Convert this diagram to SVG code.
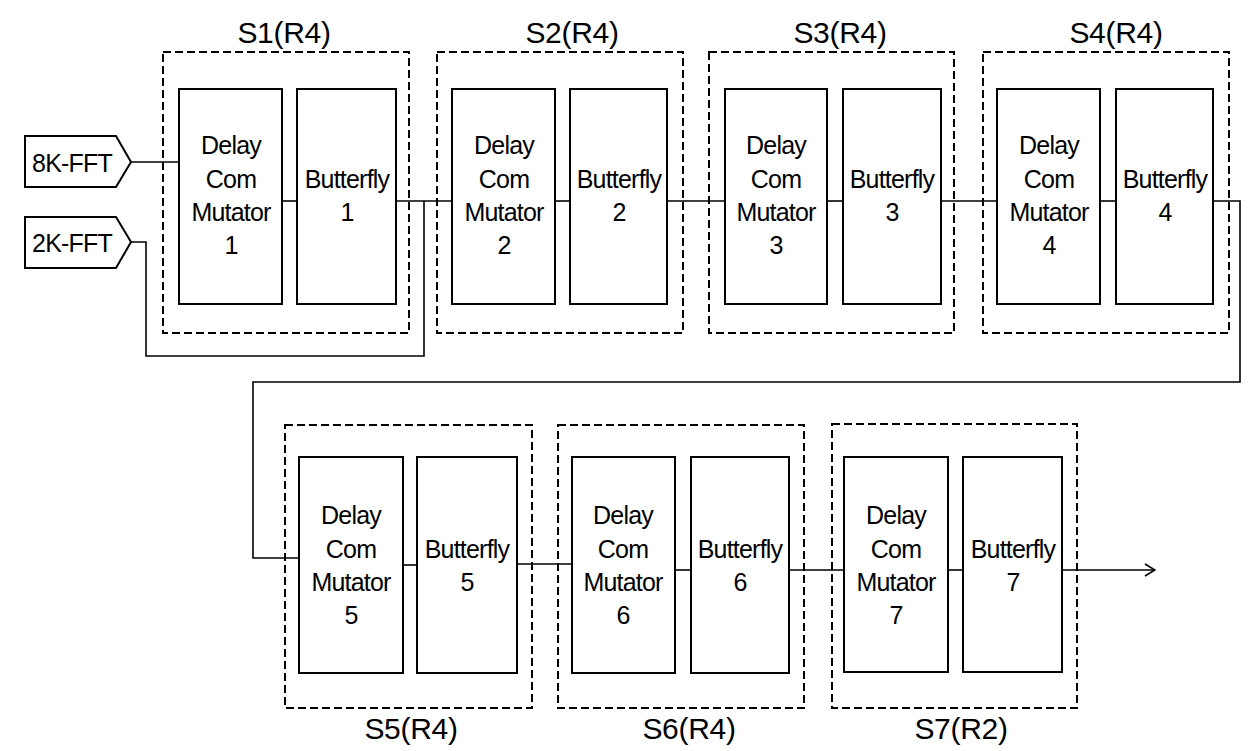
<svg xmlns="http://www.w3.org/2000/svg" width="1254" height="751" viewBox="0 0 1254 751">
<style>
.stage{fill:none;stroke:#000;stroke-width:2;stroke-dasharray:8 4}
.blk{fill:#fff;stroke:#000;stroke-width:2}
.wire{fill:none;stroke:#000;stroke-width:1.6}
.t{font-family:"Liberation Sans",Arial,sans-serif;font-size:25px;text-anchor:middle;fill:#000;letter-spacing:-0.8px}
.lbl{font-family:"Liberation Sans",Arial,sans-serif;font-size:30px;text-anchor:middle;fill:#000;letter-spacing:-0.3px}
</style>
<defs>
<marker id="arr" markerWidth="12" markerHeight="14" refX="11" refY="7" orient="auto" markerUnits="userSpaceOnUse">
<path d="M1,1 L11,7 L1,13" fill="none" stroke="#000" stroke-width="1.6"/>
</marker>
</defs>
<rect width="1254" height="751" fill="#fff"/>

<g id="connectors">
<polyline class="wire" points="131,162 179,162"/>
<polyline class="wire" points="131,242 146,242 146,356 424,356 424,201"/>
<polyline class="wire" points="282,201 297,201"/>
<polyline class="wire" points="396,201 452,201"/>
<polyline class="wire" points="555,201 570,201"/>
<polyline class="wire" points="667,201 725,201"/>
<polyline class="wire" points="827,201 843,201"/>
<polyline class="wire" points="941,201 997,201"/>
<polyline class="wire" points="1100,201 1116,201"/>
<polyline class="wire" points="1213,201 1240,201 1240,382 253,382 253,558 299,558"/>
<polyline class="wire" points="403,565 417,565"/>
<polyline class="wire" points="517,564 572,564"/>
<polyline class="wire" points="675,570 691,570"/>
<polyline class="wire" points="789,570 844,570"/>
<polyline class="wire" points="948,570 963,570"/>
<polyline class="wire" points="1062,570 1155,570" marker-end="url(#arr)"/>
</g>

<g id="in8k">
<polygon class="blk" points="25,136 116,136 131,162 116,187 25,187"/>
<text class="t" x="72" y="172">8K-FFT</text>
</g>
<g id="in2k">
<polygon class="blk" points="25,217 116,217 131,242 116,268 25,268"/>
<text class="t" x="72" y="252">2K-FFT</text>
</g>

<g id="S1">
<rect class="stage" x="163" y="52" width="246" height="281"/>
<text class="lbl" x="284" y="43">S1(R4)</text>
</g>
<g id="DCM1">
<rect class="blk" x="179" y="89" width="103" height="215"/>
<text class="t" x="231" y="154">Delay</text><text class="t" x="231" y="188">Com</text><text class="t" x="231" y="221">Mutator</text><text class="t" x="231" y="254">1</text>
</g>
<g id="BF1">
<rect class="blk" x="297" y="89" width="99" height="215"/>
<text class="t" x="347" y="188">Butterfly</text><text class="t" x="347" y="221">1</text>
</g>

<g id="S2">
<rect class="stage" x="437" y="52" width="246" height="281"/>
<text class="lbl" x="572" y="43">S2(R4)</text>
</g>
<g id="DCM2">
<rect class="blk" x="452" y="89" width="103" height="215"/>
<text class="t" x="504" y="154">Delay</text><text class="t" x="504" y="188">Com</text><text class="t" x="504" y="221">Mutator</text><text class="t" x="504" y="254">2</text>
</g>
<g id="BF2">
<rect class="blk" x="570" y="89" width="97" height="215"/>
<text class="t" x="619" y="188">Butterfly</text><text class="t" x="619" y="221">2</text>
</g>

<g id="S3">
<rect class="stage" x="709" y="52" width="245" height="281"/>
<text class="lbl" x="840" y="43">S3(R4)</text>
</g>
<g id="DCM3">
<rect class="blk" x="725" y="89" width="102" height="215"/>
<text class="t" x="776" y="154">Delay</text><text class="t" x="776" y="188">Com</text><text class="t" x="776" y="221">Mutator</text><text class="t" x="776" y="254">3</text>
</g>
<g id="BF3">
<rect class="blk" x="843" y="89" width="98" height="215"/>
<text class="t" x="892" y="188">Butterfly</text><text class="t" x="892" y="221">3</text>
</g>

<g id="S4">
<rect class="stage" x="983" y="52" width="246" height="281"/>
<text class="lbl" x="1116" y="43">S4(R4)</text>
</g>
<g id="DCM4">
<rect class="blk" x="997" y="89" width="103" height="215"/>
<text class="t" x="1049" y="154">Delay</text><text class="t" x="1049" y="188">Com</text><text class="t" x="1049" y="221">Mutator</text><text class="t" x="1049" y="254">4</text>
</g>
<g id="BF4">
<rect class="blk" x="1116" y="89" width="97" height="215"/>
<text class="t" x="1165" y="188">Butterfly</text><text class="t" x="1165" y="221">4</text>
</g>

<g id="S5">
<rect class="stage" x="285" y="425" width="247" height="283"/>
<text class="lbl" x="411" y="739">S5(R4)</text>
</g>
<g id="DCM5">
<rect class="blk" x="299" y="457" width="104" height="216"/>
<text class="t" x="351" y="524">Delay</text><text class="t" x="351" y="558">Com</text><text class="t" x="351" y="591">Mutator</text><text class="t" x="351" y="624">5</text>
</g>
<g id="BF5">
<rect class="blk" x="417" y="457" width="100" height="216"/>
<text class="t" x="467" y="558">Butterfly</text><text class="t" x="467" y="591">5</text>
</g>

<g id="S6">
<rect class="stage" x="558" y="425" width="246" height="283"/>
<text class="lbl" x="689" y="739">S6(R4)</text>
</g>
<g id="DCM6">
<rect class="blk" x="572" y="457" width="103" height="216"/>
<text class="t" x="623" y="524">Delay</text><text class="t" x="623" y="558">Com</text><text class="t" x="623" y="591">Mutator</text><text class="t" x="623" y="624">6</text>
</g>
<g id="BF6">
<rect class="blk" x="691" y="457" width="98" height="216"/>
<text class="t" x="740" y="558">Butterfly</text><text class="t" x="740" y="591">6</text>
</g>

<g id="S7">
<rect class="stage" x="832" y="424" width="245" height="284"/>
<text class="lbl" x="961" y="739">S7(R2)</text>
</g>
<g id="DCM7">
<rect class="blk" x="844" y="457" width="104" height="215"/>
<text class="t" x="896" y="524">Delay</text><text class="t" x="896" y="558">Com</text><text class="t" x="896" y="591">Mutator</text><text class="t" x="896" y="624">7</text>
</g>
<g id="BF7">
<rect class="blk" x="963" y="457" width="99" height="215"/>
<text class="t" x="1013" y="558">Butterfly</text><text class="t" x="1013" y="591">7</text>
</g>
</svg>
